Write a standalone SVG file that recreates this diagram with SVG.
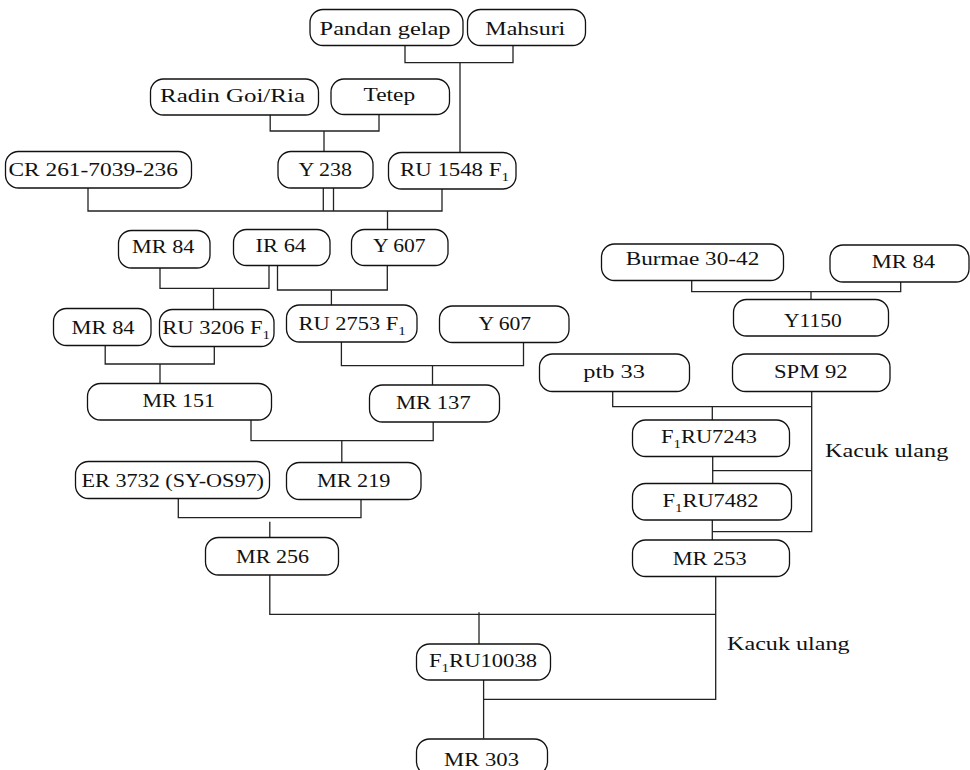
<svg xmlns="http://www.w3.org/2000/svg" width="970" height="770" viewBox="0 0 970 770">
<style>
rect.n{fill:#fff;stroke:#111;stroke-width:1.3}
text{font-family:"Liberation Serif","Times New Roman",serif;font-size:18px;fill:#111}
.c path{fill:none;stroke:#222;stroke-width:1.3}
</style>
<rect width="970" height="770" fill="#fff"/>
<g class="c" id="connectors">
<path d="M405,45.7 V62.7 H513 V45.7"/>
<path d="M460,62.7 V152.5"/>
<path d="M270.2,115 V131 H379 V114.5"/>
<path d="M324,131 V151.5"/>
<path d="M88,188 V211 H442 V189"/>
<path d="M323.3,188 V211"/>
<path d="M333.5,188 V211"/>
<path d="M387.5,211 V229.5"/>
<path d="M160,268 V288.3 H269 V265.5"/>
<path d="M213.5,288.3 V309.5"/>
<path d="M277.5,265.5 V290 H387.3 V265.5"/>
<path d="M331.4,290 V305"/>
<path d="M105.2,345.5 V364 H214.3 V346.5"/>
<path d="M160,364 V383.5"/>
<path d="M341.4,342 V365.7 H523.5 V342.5"/>
<path d="M432.5,365.7 V385"/>
<path d="M251,420 V440.7 H433.2 V422"/>
<path d="M341.8,440.7 V462.5"/>
<path d="M178.3,498.5 V517.7 H361 V499.5"/>
<path d="M269.8,521.7 V537.5"/>
<path d="M269.8,575 V614.3 H715.7"/>
<path d="M715.7,576.5 V699.3 H483.6"/>
<path d="M479,612.3 V644"/>
<path d="M483.6,680 V738.5"/>
<path d="M691.7,280.5 V291.7 H900.7 V282"/>
<path d="M811,291.7 V299.5"/>
<path d="M612.7,391.5 V406.7 H811.7"/>
<path d="M811.7,391.5 V531.7 H712.5"/>
<path d="M712.3,406.7 V420"/>
<path d="M712.7,456.5 V483.5"/>
<path d="M712.7,470.7 H811.7"/>
<path d="M712.3,520 V540"/>
</g>
<g id="pandan"><rect class="n" x="310" y="9.5" width="153" height="36" rx="13"/><text x="319.6" y="34.5" textLength="131" lengthAdjust="spacingAndGlyphs">Pandan gelap</text></g>
<g id="mahsuri"><rect class="n" x="467.5" y="9.5" width="118" height="36" rx="13"/><text x="485.3" y="34.5" textLength="80" lengthAdjust="spacingAndGlyphs">Mahsuri</text></g>
<g id="radin"><rect class="n" x="150.5" y="79" width="168" height="36" rx="13"/><text x="160" y="101.5" textLength="145" lengthAdjust="spacingAndGlyphs">Radin Goi/Ria</text></g>
<g id="tetep"><rect class="n" x="331" y="79" width="118.5" height="35.5" rx="13"/><text x="363.6" y="100.5" textLength="51.6" lengthAdjust="spacingAndGlyphs">Tetep</text></g>
<g id="cr"><rect class="n" x="5.5" y="151.5" width="186" height="36.5" rx="13"/><text x="8.4" y="175.7" textLength="169.6" lengthAdjust="spacingAndGlyphs">CR 261-7039-236</text></g>
<g id="y238"><rect class="n" x="278" y="151.5" width="95" height="36.5" rx="13"/><text x="298.5" y="175.7" textLength="53.5" lengthAdjust="spacingAndGlyphs">Y 238</text></g>
<g id="ru1548"><rect class="n" x="388.5" y="152.5" width="127.5" height="36.5" rx="13"/><text x="400" y="175.7" textLength="109" lengthAdjust="spacingAndGlyphs">RU 1548 F<tspan dy="5" font-size="12">1</tspan></text></g>
<g id="mr84a"><rect class="n" x="118.5" y="230.5" width="91.5" height="37.5" rx="13"/><text x="132" y="253.3" textLength="62.4" lengthAdjust="spacingAndGlyphs">MR 84</text></g>
<g id="ir64"><rect class="n" x="233.5" y="229.5" width="96.5" height="36" rx="13"/><text x="255.6" y="252.3" textLength="50.5" lengthAdjust="spacingAndGlyphs">IR 64</text></g>
<g id="y607a"><rect class="n" x="351.5" y="229.5" width="96.5" height="36" rx="13"/><text x="373" y="252.3" textLength="52.6" lengthAdjust="spacingAndGlyphs">Y 607</text></g>
<g id="mr84b"><rect class="n" x="53.5" y="308.5" width="97.5" height="37" rx="13"/><text x="71.6" y="334.3" textLength="63" lengthAdjust="spacingAndGlyphs">MR 84</text></g>
<g id="ru3206"><rect class="n" x="159.5" y="309.5" width="114.5" height="37" rx="13"/><text x="162.3" y="334.3" textLength="107.7" lengthAdjust="spacingAndGlyphs">RU 3206 F<tspan dy="5" font-size="12">1</tspan></text></g>
<g id="ru2753"><rect class="n" x="286.5" y="305" width="130.5" height="37" rx="13"/><text x="298.5" y="330" textLength="107.2" lengthAdjust="spacingAndGlyphs">RU 2753 F<tspan dy="5" font-size="12">1</tspan></text></g>
<g id="y607b"><rect class="n" x="439.5" y="306" width="129.5" height="36.5" rx="13"/><text x="478.4" y="330" textLength="52.8" lengthAdjust="spacingAndGlyphs">Y 607</text></g>
<g id="mr151"><rect class="n" x="87.5" y="383.5" width="184" height="36.5" rx="13"/><text x="142.4" y="406.7" textLength="72.6" lengthAdjust="spacingAndGlyphs">MR 151</text></g>
<g id="mr137"><rect class="n" x="369.5" y="385" width="130" height="37" rx="13"/><text x="396" y="409.3" textLength="74.7" lengthAdjust="spacingAndGlyphs">MR 137</text></g>
<g id="er3732"><rect class="n" x="75.5" y="461.5" width="194" height="37" rx="13"/><text x="81.5" y="486.7" textLength="182.5" lengthAdjust="spacingAndGlyphs">ER 3732 (SY-OS97)</text></g>
<g id="mr219"><rect class="n" x="286.5" y="462.5" width="134.5" height="37" rx="13"/><text x="316.9" y="486.7" textLength="73.5" lengthAdjust="spacingAndGlyphs">MR 219</text></g>
<g id="mr256"><rect class="n" x="205.5" y="537.5" width="133" height="37.5" rx="13"/><text x="236" y="563.3" textLength="73" lengthAdjust="spacingAndGlyphs">MR 256</text></g>
<g id="burmae"><rect class="n" x="601.5" y="244" width="182" height="36.5" rx="13"/><text x="625.7" y="265" textLength="133.6" lengthAdjust="spacingAndGlyphs">Burmae 30-42</text></g>
<g id="mr84c"><rect class="n" x="830" y="245" width="139" height="37" rx="13"/><text x="871.7" y="268" textLength="63.3" lengthAdjust="spacingAndGlyphs">MR 84</text></g>
<g id="y1150"><rect class="n" x="733.5" y="299.5" width="155" height="36.5" rx="13"/><text x="784" y="326.7" textLength="57.7" lengthAdjust="spacingAndGlyphs">Y1150</text></g>
<g id="ptb33"><rect class="n" x="539.5" y="354" width="150" height="37.5" rx="13"/><text x="583.3" y="378.3" textLength="61.7" lengthAdjust="spacingAndGlyphs">ptb 33</text></g>
<g id="spm92"><rect class="n" x="732.5" y="354" width="157.5" height="37.5" rx="13"/><text x="774" y="378.3" textLength="73.7" lengthAdjust="spacingAndGlyphs">SPM 92</text></g>
<g id="f1ru7243"><rect class="n" x="632.5" y="420" width="157" height="36.5" rx="13"/><text x="661" y="443.3" textLength="96" lengthAdjust="spacingAndGlyphs">F<tspan dy="5" font-size="12">1</tspan><tspan dy="-5">RU7243</tspan></text></g>
<g id="f1ru7482"><rect class="n" x="632.5" y="483.5" width="159" height="36.5" rx="13"/><text x="662.5" y="506.7" textLength="96" lengthAdjust="spacingAndGlyphs">F<tspan dy="5" font-size="12">1</tspan><tspan dy="-5">RU7482</tspan></text></g>
<g id="mr253"><rect class="n" x="632.5" y="540" width="157" height="36.5" rx="13"/><text x="672.7" y="565" textLength="74" lengthAdjust="spacingAndGlyphs">MR 253</text></g>
<g id="f1ru10038"><rect class="n" x="416.5" y="644" width="134" height="36" rx="13"/><text x="429" y="667" textLength="108" lengthAdjust="spacingAndGlyphs">F<tspan dy="5" font-size="12">1</tspan><tspan dy="-5">RU10038</tspan></text></g>
<g id="mr303"><rect class="n" x="416.5" y="739" width="131" height="36" rx="13"/><text x="444" y="765.7" textLength="75" lengthAdjust="spacingAndGlyphs">MR 303</text></g>
<g id="labels">
<text x="825" y="456.7" textLength="123.3" lengthAdjust="spacingAndGlyphs">Kacuk ulang</text>
<text x="727" y="650" textLength="122.6" lengthAdjust="spacingAndGlyphs">Kacuk ulang</text>
</g>
</svg>
